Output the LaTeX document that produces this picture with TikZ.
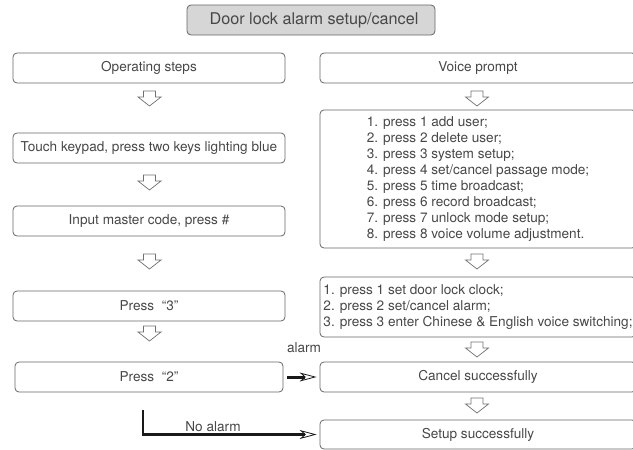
\documentclass[tikz,border=0pt]{standalone}
\usepackage{fontspec}
\setmainfont{TeX Gyre Heros}
\usetikzlibrary{arrows.meta}
\definecolor{txt}{HTML}{474747}
\definecolor{bord}{HTML}{666666}
\definecolor{harrow}{HTML}{707070}
\definecolor{titlefill}{HTML}{D6D6D6}
\begin{document}
\begin{tikzpicture}[x=1pt,y=-1pt,
  box/.style={draw=bord, line width=0.8pt, rounded corners=4pt, text=txt,
    font=\fontsize{13.6}{15.9}\selectfont, minimum height=30pt, inner sep=2pt},
  lbl/.style={text=txt, font=\fontsize{13.6}{15.9}\selectfont, inner sep=0pt},
  thickarrow/.style={draw=black!90, line width=3pt,
    -{Stealth[open, length=17pt, width=9pt, inset=5pt, line width=0.8pt]}},
  hollow/.pic={\draw[harrow, line width=0.7pt, line join=miter]
    (-6,0) -- (-6,6) -- (-11.5,6) -- (0,15) -- (11.5,6) -- (6,6) -- (6,0) -- cycle;}
]
\useasboundingbox (0,0) rectangle (633,450);
\clip (0,0) rectangle (633,450);

% title
\node[box, fill=titlefill, minimum width=248pt, font=\fontsize{16.2}{18}\selectfont] (title) at (311,20) {\hspace*{6pt}Door lock alarm setup/cancel};

% left column
\node[box, minimum width=272pt] (ops) at (149,68) {Operating steps};
\node[box, minimum width=272pt] (touch) at (149,148) {Touch keypad, press two keys lighting blue};
\node[box, minimum width=272pt] (master) at (149,221) {Input master code, press \#};
\node[box, minimum width=272pt] (p3) at (149,306) {Press\ \ “3”};
\node[box, minimum width=268pt] (p2) at (149,377) {Press\ \ “2”};

% right column
\node[box, minimum width=316pt] (voice) at (478,68) {Voice prompt};
\node[box, minimum width=316pt, minimum height=138pt, align=left] (menu) at (478,179) {1. press 1 add user;\\
2. press 2 delete user;\\
3. press 3 system setup;\\
4. press 4 set/cancel passage mode;\\
5. press 5 time broadcast;\\
6. press 6 record broadcast;\\
7. press 7 unlock mode setup;\\
8. press 8 voice volume adjustment.};
\node[box, minimum width=316pt, minimum height=60pt, align=left] (sys) at (478,307) {1. press 1 set door lock clock;\\
2. press 2 set/cancel alarm;\\
3. press 3 enter Chinese \& English voice switching;};
\node[box, minimum width=316pt] (cancel) at (478,377) {Cancel successfully};
\node[box, minimum width=316pt, minimum height=29pt] (setup) at (478,434.5) {Setup successfully};

% hollow down arrows
\pic at (149.5,91) {hollow};
\pic at (149.5,175) {hollow};
\pic at (149.5,254) {hollow};
\pic at (149.5,326) {hollow};
\pic at (477,91) {hollow};
\pic at (477,254) {hollow};
\pic at (477,342) {hollow};
\pic at (477,398) {hollow};

% labels
\node[lbl] (alarmlbl) at (304,348) {alarm};
\node[lbl] (noalarmlbl) at (213,427) {No alarm};

% connectors
\draw[thickarrow] ([xshift=4pt]p2.east) -- ([xshift=-3pt]cancel.west);
\coordinate (nastart) at (143,410);
\draw[thickarrow, line width=2.6pt] (nastart) |- ([xshift=-3pt]setup.west);
\end{tikzpicture}
\end{document}
